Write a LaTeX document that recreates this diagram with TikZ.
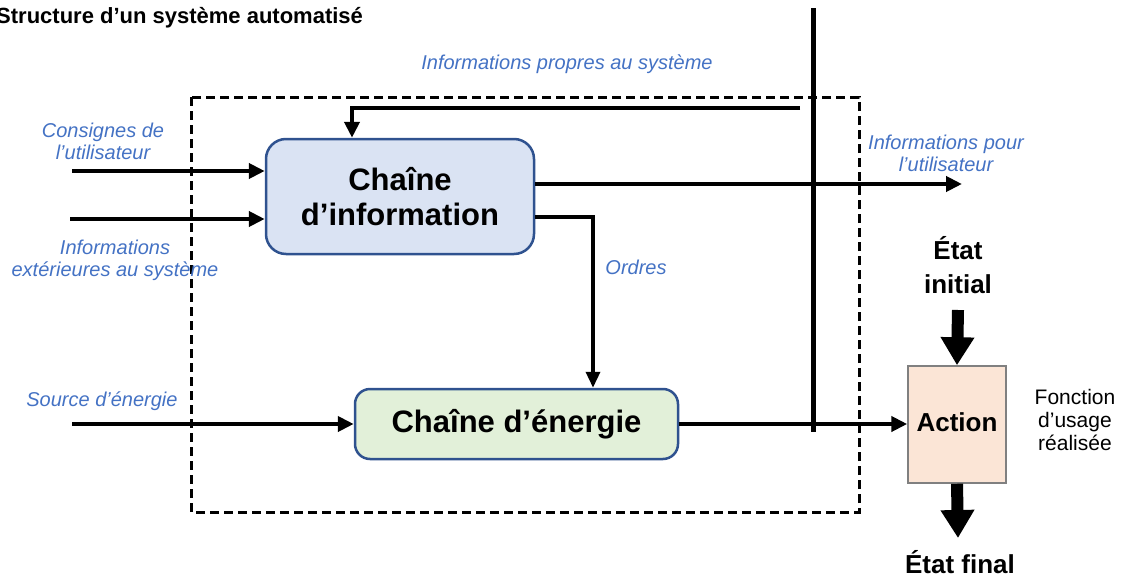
\documentclass[tikz,border=0pt]{standalone}
\usepackage{fontspec}
\setmainfont{Liberation Sans}
\usetikzlibrary{arrows.meta}
\definecolor{lblblue}{HTML}{4472C4}
\definecolor{boxborder}{HTML}{2F528F}
\definecolor{infofill}{HTML}{DAE3F3}
\definecolor{energyfill}{HTML}{E2F0D9}
\definecolor{actfill}{HTML}{FBE5D6}
\tikzset{
  arr/.style={line width=4pt, -{Triangle[length=16pt,width=15pt]}},
  thinarr/.style={line width=3.5pt, -{Triangle[length=16pt,width=14pt]}},
  bigarr/.style={line width=12pt, -{Triangle[length=28pt,width=32pt]}},
  chainbox/.style={draw=boxborder, line width=2.5pt, font=\fontsize{31}{35}\selectfont\bfseries, align=center, inner sep=0pt},
  bluelbl/.style={text=lblblue, font=\fontsize{20}{22}\selectfont\itshape, align=center, inner sep=0pt},
  blacklbl/.style={font=\fontsize{26}{34}\selectfont\bfseries, align=center, inner sep=0pt}
}
\begin{document}
\begin{tikzpicture}[x=1pt,y=-1pt]
\useasboundingbox (0,0) rectangle (1128,581);
% title
\node[anchor=west, font=\fontsize{22}{24}\selectfont\bfseries, inner sep=0pt] (title) at (-4,18) {Structure d’un système automatisé};
% dashed system border
\draw[line width=3pt, dash pattern=on 9pt off 5pt] (191,97) rectangle (859,512);
% boxes
\node[chainbox, fill=infofill, rounded corners=20pt, minimum width=268pt, minimum height=115pt] (ci) at (400,196.5) {Chaîne\\d’information};
\node[chainbox, fill=energyfill, rounded corners=15pt, minimum width=323pt, minimum height=70pt] (ce) at (516.5,424) {Chaîne d’énergie};
\node[draw=gray, line width=1.5pt, fill=actfill, minimum width=98pt, minimum height=117pt, font=\fontsize{26}{30}\selectfont\bfseries, inner sep=0pt] (act) at (957,424.5) {\raisebox{4pt}{Action}};
% coordinates for free ends
\coordinate (cons) at (72,171);
\coordinate (iext) at (70,219);
\coordinate (src) at (72,424);
\coordinate (fb) at (800,108);
\coordinate (iu) at (962,184);
\coordinate (vtop) at (813,8);
\coordinate (vbot) at (813,432);
\coordinate (einit) at (958,310);
\coordinate (efin) at (958,538);
% arrows
\draw[arr] (cons) -- (cons -| ci.west);
\draw[arr] (iext) -- (iext -| ci.west);
\draw[arr] (src) -- (src -| ce.west);
\draw[arr] (fb) -| ([xshift=-48pt]ci.north);
\draw[arr] (iu -| ci.east) -- (iu);
\draw[thinarr] ([yshift=-20.5pt]ci.east) -| ([xshift=76.5pt]ce.north);
\draw[arr] (ce.east) -- (ce.east -| act.west);
\draw[line width=5pt] (vtop) -- (vbot);
\draw[bigarr] (einit) -- (act.north);
\draw[bigarr] (act.south) -- (efin);
% labels
\node[bluelbl] (lprop) at (567,64) {Informations propres au système};
\node[bluelbl] (lcons) at (103,141) {Consignes de\\l’utilisateur};
\node[bluelbl] (lext) at (115,260) {Informations\\extérieures au système};
\node[bluelbl] (lpour) at (946,153) {Informations pour\\l’utilisateur};
\node[bluelbl] (lord) at (636,267) {Ordres};
\node[bluelbl] (lsrc) at (102,401) {Source d’énergie};
\node[blacklbl] (linit) at (958,265) {État\\initial};
\node[blacklbl] (lfin) at (960,562) {État final};
\node[font=\fontsize{21}{23}\selectfont, align=center, inner sep=0pt] (lfct) at (1075,420) {Fonction\\d’usage\\réalisée};
\end{tikzpicture}
\end{document}
